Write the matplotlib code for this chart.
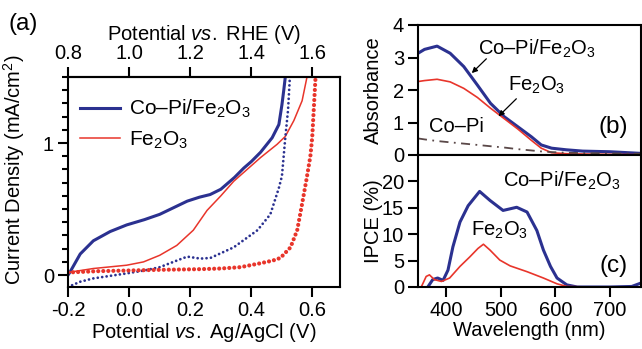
import matplotlib.pyplot as plt
from matplotlib.ticker import MultipleLocator

plt.rcParams['font.family'] = 'Liberation Sans'
plt.rcParams['mathtext.fontset'] = 'custom'
plt.rcParams['mathtext.rm'] = 'Liberation Sans'
plt.rcParams['mathtext.it'] = 'Liberation Sans:italic'
plt.rcParams['font.size'] = 14.5
plt.rcParams['axes.unicode_minus'] = False
plt.rcParams['axes.linewidth'] = 1.5

BLUE = '#2b3190'
RED = '#e8352b'
GRAY = '#5a4848'

# (a) current density vs potential (V vs Ag/AgCl), mA/cm2
v_copi_light = [-0.2, -0.193, -0.16, -0.117, -0.062, -0.008, 0.05, 0.1, 0.145, 0.19, 0.23,
                0.265, 0.3, 0.32, 0.345, 0.375, 0.4, 0.43, 0.468, 0.49, 0.5, 0.506, 0.511]
j_copi_light = [0.0, 0.025, 0.16, 0.26, 0.33, 0.38, 0.42, 0.46, 0.51, 0.56, 0.59,
                0.61, 0.65, 0.69, 0.74, 0.81, 0.86, 0.93, 1.04, 1.14, 1.29, 1.4, 1.5]
v_fe_light = [-0.2, -0.117, -0.008, 0.047, 0.1, 0.156, 0.21, 0.255, 0.3, 0.342, 0.386,
              0.43, 0.484, 0.511, 0.539, 0.566, 0.582]
j_fe_light = [0.02, 0.05, 0.075, 0.1, 0.15, 0.225, 0.34, 0.49, 0.6, 0.71, 0.8,
              0.89, 0.99, 1.05, 1.17, 1.32, 1.5]
v_copi_dark = [-0.2, -0.16, -0.117, -0.06, -0.008, 0.05, 0.1, 0.156, 0.19, 0.233, 0.266,
               0.342, 0.42, 0.462, 0.49, 0.5, 0.511, 0.52, 0.526]
j_copi_dark = [-0.09, -0.05, -0.025, -0.005, 0.013, 0.035, 0.06, 0.11, 0.14, 0.125, 0.13,
               0.21, 0.34, 0.46, 0.66, 0.75, 1.04, 1.25, 1.5]
v_fe_dark = [-0.2, -0.1, 0.0, 0.1, 0.233, 0.3, 0.364, 0.43, 0.47, 0.495, 0.528, 0.55,
             0.566, 0.58, 0.593, 0.599, 0.61]
j_fe_dark = [0.02, 0.03, 0.035, 0.04, 0.045, 0.05, 0.06, 0.09, 0.11, 0.13, 0.21, 0.34,
             0.54, 0.72, 0.9, 1.04, 1.5]

# (b) absorbance
wl_abs = [348, 360, 383, 407, 432, 457, 481, 506, 531, 556, 574, 593, 620, 650, 700, 757]
abs_copi_fe = [3.13, 3.25, 3.35, 3.13, 2.72, 2.15, 1.59, 1.18, 0.87, 0.56, 0.31, 0.21,
               0.16, 0.12, 0.1, 0.05]
abs_fe = [2.26, 2.29, 2.33, 2.25, 2.05, 1.77, 1.44, 1.12, 0.8, 0.45, 0.21, 0.07,
          0.04, 0.03, 0.02, 0.01]
abs_copi = [0.51, 0.48, 0.43, 0.39, 0.35, 0.31, 0.27, 0.23, 0.18, 0.14, 0.11, 0.09,
            0.07, 0.06, 0.05, 0.04]

# (c) IPCE
wl_ipce_copi = [366, 375, 384, 394, 403, 412, 425, 440, 461, 480, 504, 529, 548, 566,
                578, 591, 603, 621, 640, 700, 740, 757]
ipce_copi = [0, 1.4, 1.7, 1.25, 3.2, 7.6, 12.3, 15.4, 18.1, 16.4, 14.5, 15.1, 14.2, 10.7,
             7.0, 3.9, 1.7, 0.4, 0, 0, 0.1, 0.75]
wl_ipce_fe = [354, 363, 369, 378, 391, 406, 425, 443, 458, 468, 480, 498, 517, 548,
              578, 603, 621, 660, 757]
ipce_fe = [0, 2.0, 2.3, 1.4, 1.05, 1.7, 3.9, 5.7, 7.3, 8.1, 7.0, 5.1, 4.0, 2.9,
           1.7, 0.6, 0.1, 0, 0]

W, H = 642, 349
fig = plt.figure(figsize=(W / 100, H / 100), dpi=100)


def box(l, t, r, b):
    return [l / W, 1 - b / H, (r - l) / W, (b - t) / H]


tick_kw = dict(direction='out', length=7, width=1.5, pad=3)

# ---- panel (a)
ax = fig.add_axes(box(68, 77, 340, 287))
ax.plot(v_copi_light, j_copi_light, color=BLUE, lw=2.2, label='Co–Pi/Fe$_2$O$_3$')
ax.plot(v_fe_light, j_fe_light, color=RED, lw=1.1, label='Fe$_2$O$_3$')
ax.plot(v_copi_dark, j_copi_dark, color=BLUE, lw=2.0, ls=(0, (0.01, 1.6)),
        dash_capstyle='round')
ax.plot(v_fe_dark, j_fe_dark, color=RED, lw=3.0, ls=(0, (0.01, 1.2)),
        dash_capstyle='round')
ax.set_xlim(-0.2, 0.69)
ax.set_ylim(-0.09, 1.5)
ax.set_xticks([-0.2, 0.0, 0.2, 0.4, 0.6])
ax.set_xticklabels(['-0.2', '0.0', '0.2', '0.4', '0.6'])
ax.set_yticks([0, 1])
ax.yaxis.set_minor_locator(MultipleLocator(0.1))
ax.tick_params(which='major', **tick_kw)
ax.tick_params(which='minor', direction='out', length=4.5, width=1.5)
ax.set_xlabel('Potential $\\it{vs.}$ Ag/AgCl (V)', labelpad=1)
ax.set_ylabel('Current Density (mA/cm$^2$)')
ax.yaxis.set_label_coords(-0.15, 0.56)
top = ax.secondary_xaxis('top', functions=(lambda v: v + 1.0, lambda r: r - 1.0))
top.set_xticks([0.8, 1.0, 1.2, 1.4, 1.6])
top.set_xticklabels(['0.8', '1.0', '1.2', '1.4', '1.6'])
top.tick_params(**tick_kw)
top.set_xlabel('Potential $\\it{vs.}$ RHE (V)', labelpad=3)
ax.legend(loc='upper left', bbox_to_anchor=(0.045, 0.9), frameon=False,
          handlelength=1.9, handletextpad=0.45, labelspacing=0.45,
          borderpad=0, borderaxespad=0, fontsize=15)
fig.text(8 / W, 1 - 24 / H, '(a)', fontsize=17.5, va='center')

# ---- panel (b)
axb = fig.add_axes(box(418, 25, 641, 155))
axb.plot(wl_abs, abs_copi_fe, color=BLUE, lw=2.2)
axb.plot(wl_abs, abs_fe, color=RED, lw=1.2)
axb.plot(wl_abs, abs_copi, color=GRAY, lw=1.3, ls=(0, (5, 3, 1, 3)))
axb.set_xlim(348, 757)
axb.set_ylim(0, 4)
axb.set_yticks([0, 1, 2, 3, 4])
axb.set_xticks([])
axb.tick_params(**tick_kw)
axb.set_ylabel('Absorbance')
axb.yaxis.set_label_coords(-0.155, 0.5)
axb.text(566, 3.28, 'Co–Pi/Fe$_2$O$_3$', ha='center', va='center')
axb.annotate('', xy=(443, 2.46), xytext=(477, 3.02),
             arrowprops=dict(arrowstyle='-|>', lw=0.9, color='k', mutation_scale=8))
axb.text(566, 2.15, 'Fe$_2$O$_3$', ha='center', va='center')
axb.annotate('', xy=(492, 1.13), xytext=(532, 1.79),
             arrowprops=dict(arrowstyle='-|>', lw=0.9, color='k', mutation_scale=8))
axb.text(418, 0.87, 'Co–Pi', ha='center', va='center')
axb.text(707, 0.85, '(b)', ha='center', va='center', fontsize=17.5)

# ---- panel (c)
axc = fig.add_axes(box(418, 155, 641, 287))
axc.plot(wl_ipce_copi, ipce_copi, color=BLUE, lw=2.2)
axc.plot(wl_ipce_fe, ipce_fe, color=RED, lw=1.2)
axc.set_xlim(348, 757)
axc.set_ylim(0, 25)
axc.set_yticks([0, 5, 10, 15, 20])
axc.set_xticks([400, 500, 600, 700])
axc.tick_params(**tick_kw)
axc.set_xlabel('Wavelength (nm)', labelpad=1)
axc.set_ylabel('IPCE (%)')
axc.yaxis.set_label_coords(-0.155, 0.5)
axc.text(612, 20.1, 'Co–Pi/Fe$_2$O$_3$', ha='center', va='center')
axc.text(498, 10.75, 'Fe$_2$O$_3$', ha='center', va='center')
axc.text(707, 3.9, '(c)', ha='center', va='center', fontsize=17.5)

fig.savefig('out.png', dpi=100)
